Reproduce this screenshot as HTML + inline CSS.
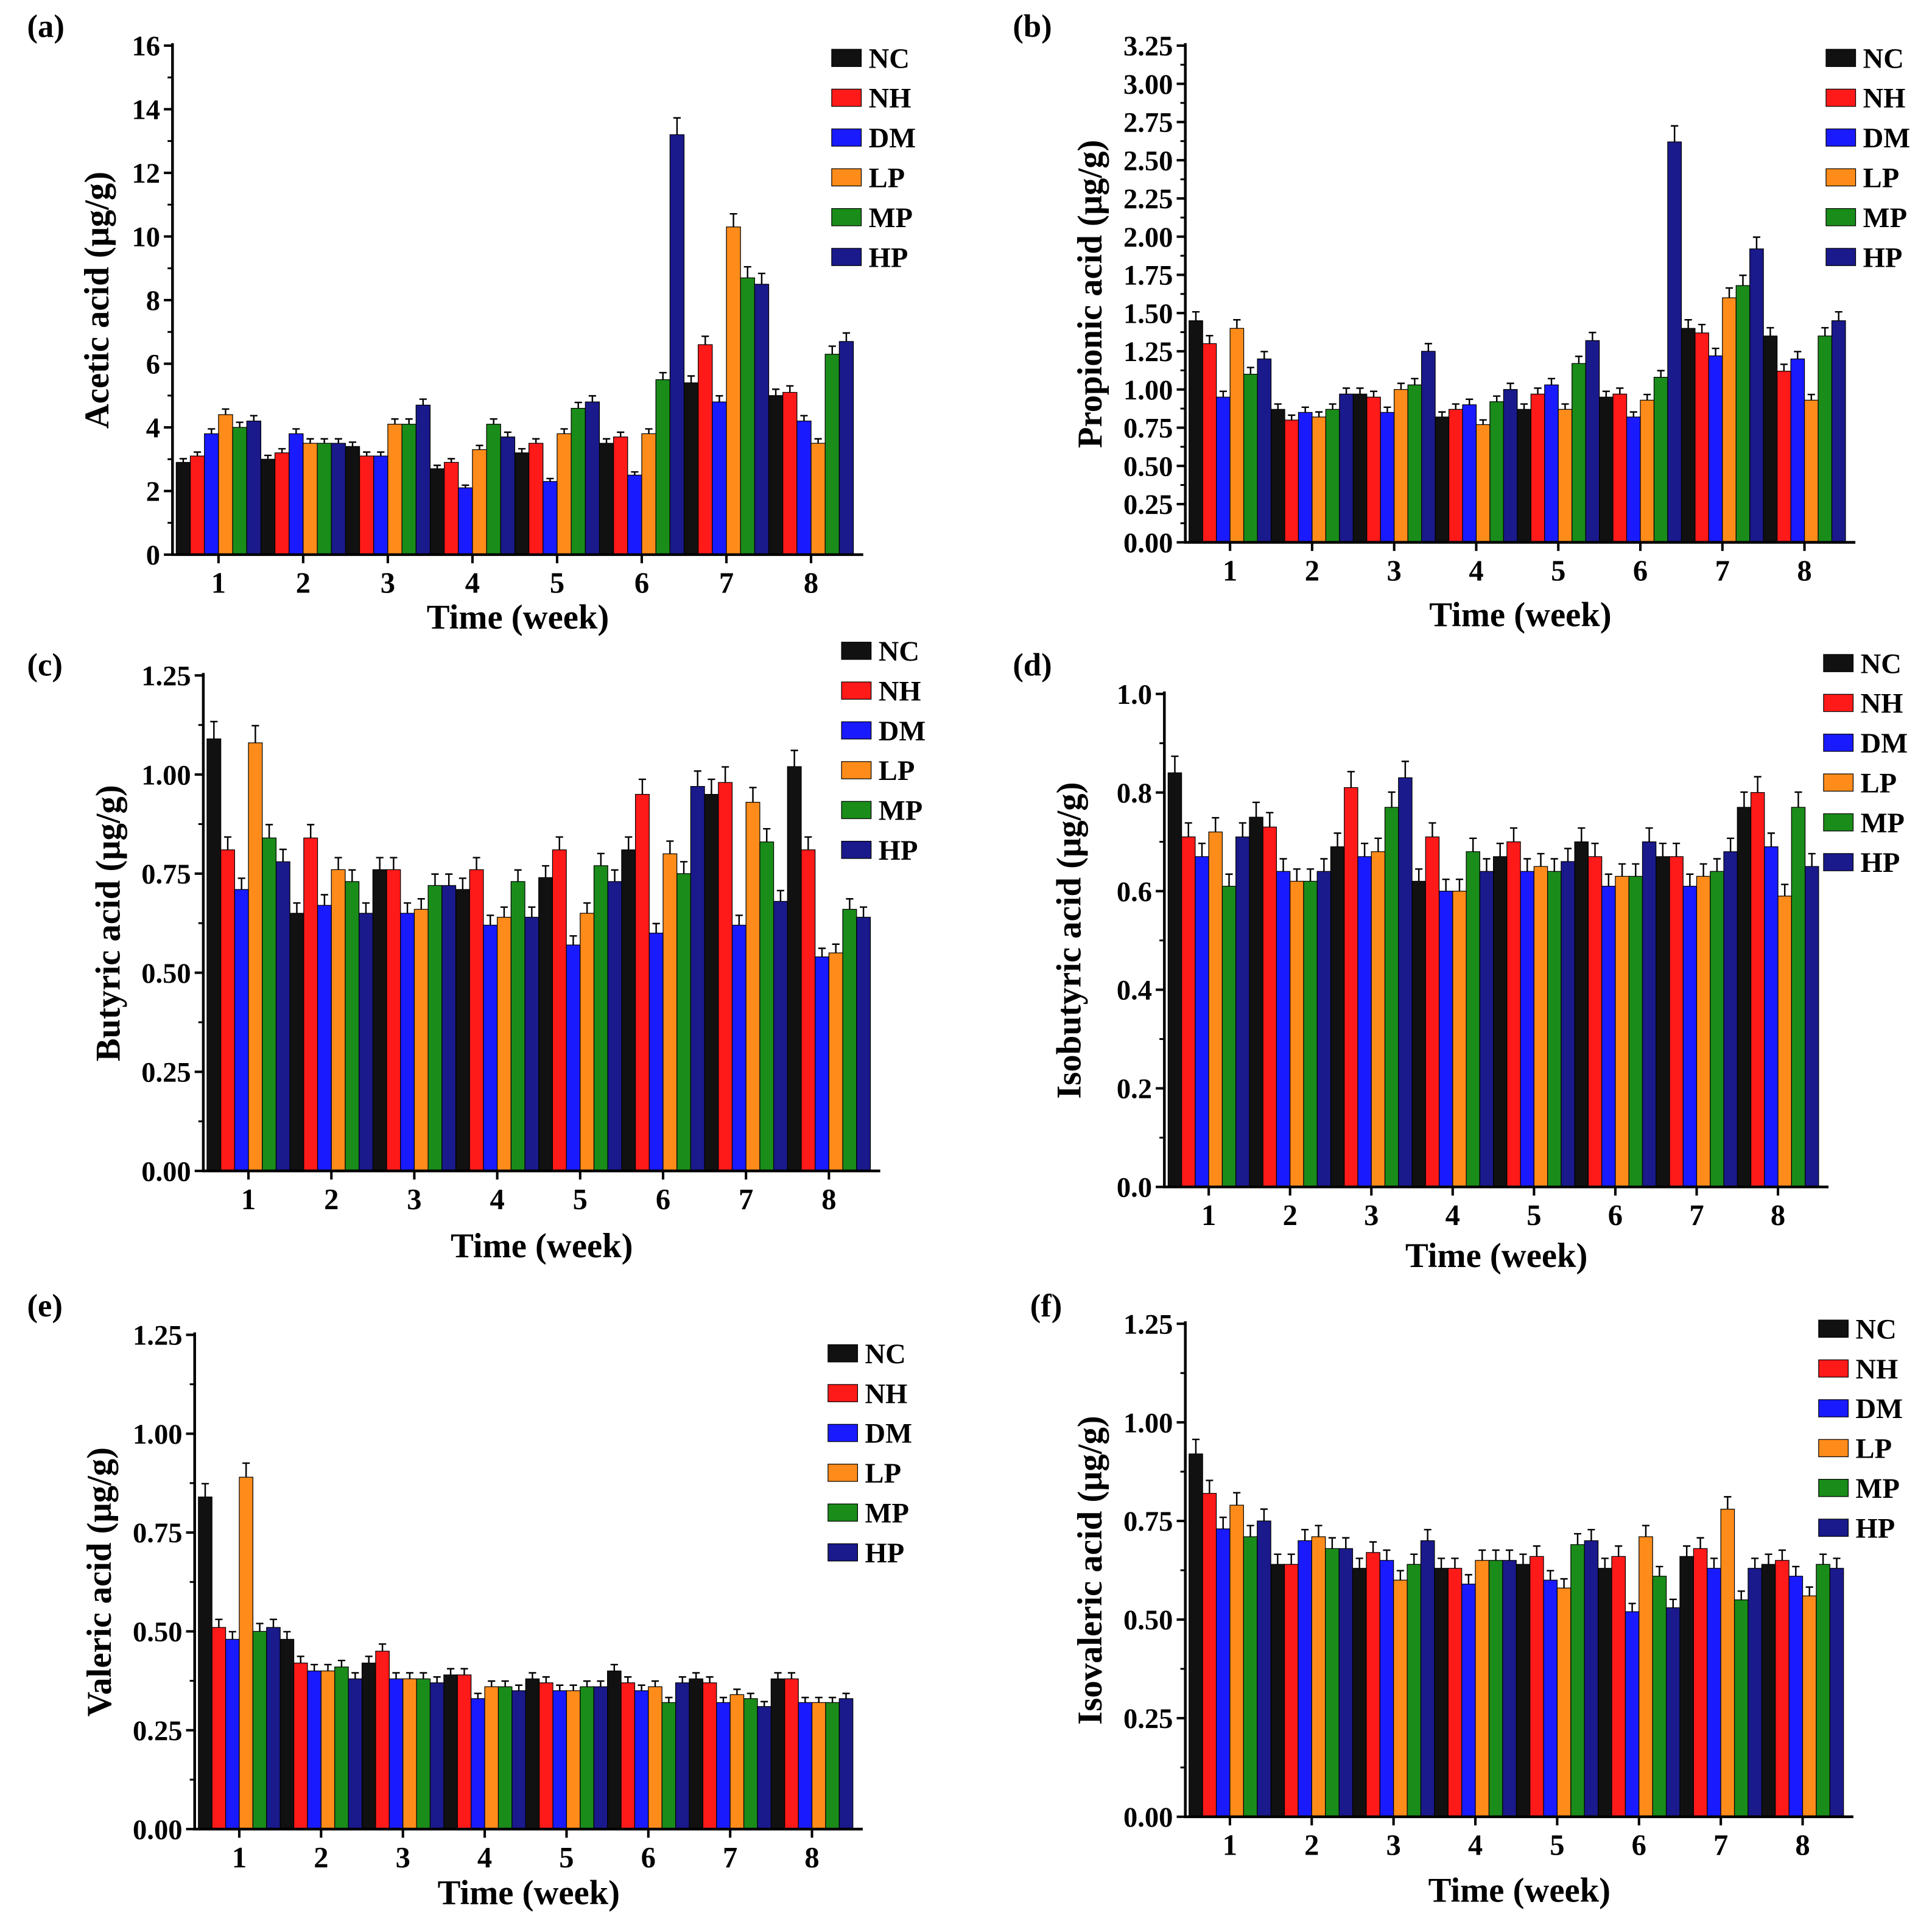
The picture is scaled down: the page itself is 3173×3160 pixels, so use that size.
<!DOCTYPE html>
<html><head><meta charset="utf-8"><style>
html,body{margin:0;padding:0;background:#fff}
svg{display:block}
text{font-family:"Liberation Serif",serif;font-weight:bold;fill:#000}
</style></head><body>
<svg id="c" width="3173" height="3160" viewBox="0 0 1568 1561" preserveAspectRatio="none" xmlns="http://www.w3.org/2000/svg"></svg>
<script>
const categories=["1","2","3","4","5","6","7","8"];
const seriesNames=["NC","NH","DM","LP","MP","HP"];
const colors=["#111111","#ff1a1a","#1a1aff","#ff8c1a","#1a8c1a","#1a1a8c"];
const aceticVals=[[2.9,3.0,3.4,2.7,3.2,3.5,5.4,5.0],[3.1,3.2,3.1,2.9,3.5,3.7,6.6,5.1],[3.8,3.8,3.1,2.1,2.3,2.5,4.8,4.2],[4.4,3.5,4.1,3.3,3.8,3.8,10.3,3.5],[4.0,3.5,4.1,4.1,4.6,5.5,8.7,6.3],[4.2,3.5,4.7,3.7,4.8,13.2,8.5,6.7]];
const propionicVals=[[1.45,0.87,0.97,0.82,0.87,0.95,1.4,1.35],[1.3,0.8,0.95,0.87,0.97,0.97,1.37,1.12],[0.95,0.85,0.85,0.9,1.03,0.82,1.22,1.2],[1.4,0.82,1.0,0.77,0.87,0.93,1.6,0.93],[1.1,0.87,1.03,0.92,1.17,1.08,1.68,1.35],[1.2,0.97,1.25,1.0,1.32,2.62,1.92,1.45]];
const butyricVals=[[1.09,0.65,0.76,0.71,0.74,0.81,0.95,1.02],[0.81,0.84,0.76,0.76,0.81,0.95,0.98,0.81],[0.71,0.67,0.65,0.62,0.57,0.60,0.62,0.54],[1.08,0.76,0.66,0.64,0.65,0.80,0.93,0.55],[0.84,0.73,0.72,0.73,0.77,0.75,0.83,0.66],[0.78,0.65,0.72,0.64,0.73,0.97,0.68,0.64]];
const isobutyricVals=[[0.84,0.75,0.69,0.62,0.67,0.70,0.67,0.77],[0.71,0.73,0.81,0.71,0.70,0.67,0.67,0.80],[0.67,0.64,0.67,0.60,0.64,0.61,0.61,0.69],[0.72,0.62,0.68,0.60,0.65,0.63,0.63,0.59],[0.61,0.62,0.77,0.68,0.64,0.63,0.64,0.77],[0.71,0.64,0.83,0.64,0.66,0.70,0.68,0.65]];
const valericVals=[[0.84,0.48,0.42,0.39,0.38,0.40,0.38,0.38],[0.51,0.42,0.45,0.39,0.37,0.37,0.37,0.38],[0.48,0.40,0.38,0.33,0.35,0.35,0.32,0.32],[0.89,0.40,0.38,0.36,0.35,0.36,0.34,0.32],[0.50,0.41,0.38,0.36,0.36,0.32,0.33,0.32],[0.51,0.38,0.37,0.35,0.36,0.37,0.31,0.33]];
const isovalericVals=[[0.92,0.64,0.63,0.63,0.64,0.63,0.66,0.64],[0.82,0.64,0.67,0.63,0.66,0.66,0.68,0.65],[0.73,0.70,0.65,0.59,0.60,0.52,0.63,0.61],[0.79,0.71,0.60,0.65,0.58,0.71,0.78,0.56],[0.71,0.68,0.64,0.65,0.69,0.61,0.55,0.64],[0.75,0.68,0.70,0.65,0.70,0.53,0.63,0.63]];
const ticksA=[0,2,4,6,8,10,12,14,16];
const ticksB=[0,0.25,0.5,0.75,1,1.25,1.5,1.75,2,2.25,2.5,2.75,3,3.25];
const ticksC=[0,0.25,0.5,0.75,1,1.25];
const ticksD=[0,0.2,0.4,0.6,0.8,1.0];

const panels=[
 {id:"a",title:"Acetic acid (μg/g)",vals:aceticVals,ticks:ticksA,dec:0,ax:140,y0:450,y1:37,sp:68.7,xt:502,lx:675,ly:47,lab:[22,30]},
 {id:"b",title:"Propionic acid (μg/g)",vals:propionicVals,ticks:ticksB,dec:2,ax:962,y0:440,y1:37,sp:66.6,xt:500,lx:1482,ly:47,lab:[822,30]},
 {id:"c",title:"Butyric acid (μg/g)",vals:butyricVals,ticks:ticksC,dec:2,ax:165,y0:950,y1:548,sp:67.3,xt:1012,lx:683,ly:528,lab:[22,548]},
 {id:"d",title:"Isobutyric acid (μg/g)",vals:isobutyricVals,ticks:ticksD,dec:1,ax:945,y0:963,y1:563,sp:66,xt:1020,lx:1480,ly:538,lab:[822,548]},
 {id:"e",title:"Valeric acid (μg/g)",vals:valericVals,ticks:ticksC,dec:2,ax:158,y0:1484,y1:1083,sp:66.4,xt:1537,lx:672,ly:1098,lab:[22,1068]},
 {id:"f",title:"Isovaleric acid (μg/g)",vals:isovalericVals,ticks:ticksC,dec:2,ax:962,y0:1474,y1:1074,sp:66.4,xt:1535,lx:1476,ly:1078,lab:[836,1068]}
];
const NS="http://www.w3.org/2000/svg";
const svg=document.getElementById("c");
function mk(tag,attrs,parent){const e=document.createElementNS(NS,tag);for(const k in attrs)e.setAttribute(k,attrs[k]);(parent||svg).appendChild(e);return e;}
panels.forEach(p=>{
  const g=mk("g",{});
  
  
  const tmax=p.ticks[p.ticks.length-1];
  const y=v=>p.y0-(v/tmax)*(p.y0-p.y1);
  const x0=p.ax+3, bw=p.sp/6;
  const xEnd=x0+p.sp*8+8;
  // bars
  p.vals.forEach((ser,si)=>{ser.forEach((v,ci)=>{
    const bx=x0+ci*p.sp+si*bw;
    const r=mk("rect",{x:bx,y:y(v),width:bw,height:p.y0-y(v),fill:colors[si],stroke:"#000","stroke-width":0.6},g);
    
    
    const e=v*0.04, cx=bx+bw/2;
    mk("path",{d:`M${cx} ${y(v)}V${y(v+e)}M${cx-3} ${y(v+e)}H${cx+3}`,stroke:"#000","stroke-width":1.2,fill:"none"},g);
  });});
  // axes
  const axl=mk("path",{d:`M${p.ax} ${p.y1-2}V${p.y0}H${xEnd}`,stroke:"#000","stroke-width":2.2,fill:"none"},g);
  
  
  p.ticks.forEach((t,i)=>{
    mk("line",{x1:p.ax-7,x2:p.ax,y1:y(t),y2:y(t),stroke:"#000","stroke-width":2},g);
    if(i<p.ticks.length-1){const m=(t+p.ticks[i+1])/2;mk("line",{x1:p.ax-4,x2:p.ax,y1:y(m),y2:y(m),stroke:"#000","stroke-width":1.5},g);}
    const tx=mk("text",{x:p.ax-10,y:y(t)+8,"text-anchor":"end","font-size":23},g);
    tx.textContent=t.toFixed(p.dec);
    
    
  });
  categories.forEach((c,ci)=>{
    const cx=x0+ci*p.sp+p.sp/2;
    mk("line",{x1:cx,x2:cx,y1:p.y0,y2:p.y0+7,stroke:"#000","stroke-width":2},g);
    const tx=mk("text",{x:cx,y:p.y0+31,"text-anchor":"middle","font-size":24},g);
    tx.textContent=c;
    
    
  });
  const xt=mk("text",{x:(p.ax+xEnd)/2,y:p.xt+8,"text-anchor":"middle","font-size":28},g);
  xt.textContent="Time (week)";
  
  
  const ym=(p.y0+p.y1)/2, yx=p.ax-(p.dec===0?52:68);
  const yt=mk("text",{x:yx,y:ym,"text-anchor":"middle","font-size":28,transform:`rotate(-90 ${yx} ${ym})`},g);
  yt.textContent=p.title;
  
  
  const pl=mk("text",{x:p.lab[0],y:p.lab[1],"font-size":26},g);
  pl.textContent="("+p.id+")";
  
  
  seriesNames.forEach((n,si)=>{
    const yy=p.ly+si*32.3;
    const sw=mk("rect",{x:p.lx,y:yy-7,width:24,height:14,fill:colors[si],stroke:"#000","stroke-width":0.6},g);
    
    
    const lt=mk("text",{x:p.lx+30,y:yy+8,"font-size":23},g);
    lt.textContent=n;
    
    
  });
});
</script>
</body></html>
